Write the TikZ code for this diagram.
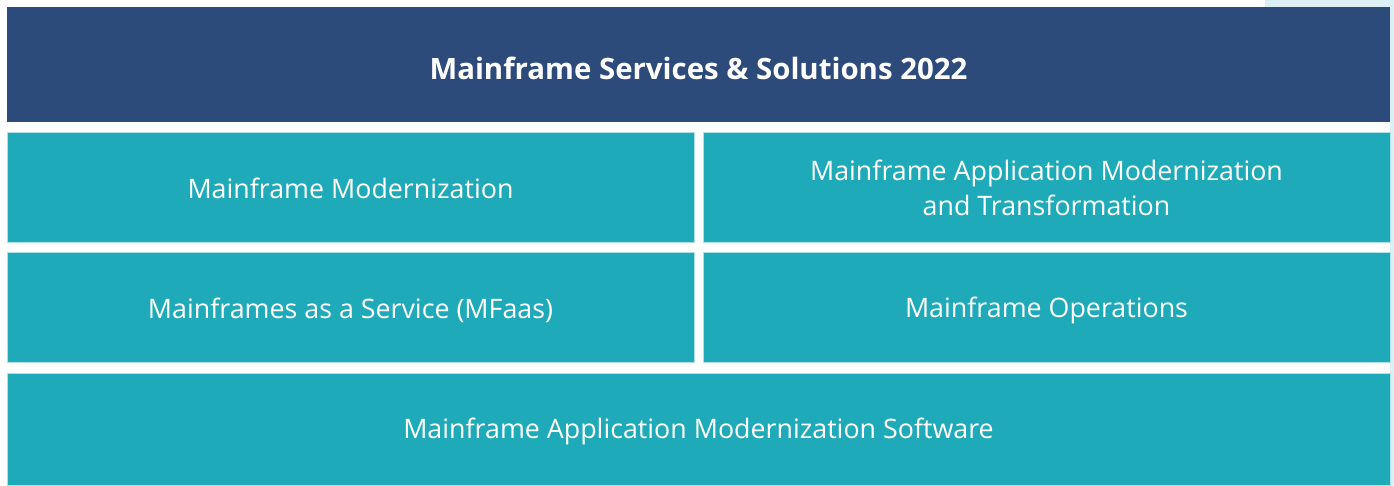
\documentclass[tikz,border=0pt]{standalone}
\usepackage{fontspec}
\setmainfont{Open Sans}
\usepackage{tikz}
\usetikzlibrary{positioning}
\definecolor{navy}{HTML}{2C4A7A}
\definecolor{teal}{HTML}{1FAABA}
\definecolor{pale}{HTML}{DCEFF5}
\tikzset{
  tile/.style={fill=teal, draw=teal!35, line width=0.6pt, anchor=north west,
    inner sep=0pt, outer sep=0pt},
  label/.style={text=white, align=center, font=\fontsize{26.8}{35}\selectfont},
}

\begin{document}
\begin{tikzpicture}[x=1pt, y=-1pt]
  % canvas
  \fill[white] (0,0) rectangle (1394,485);
  \fill[pale] (1390,0) rectangle (1394,485);
  \fill[pale] (1265,0) rectangle (1394,7);
  \useasboundingbox (0,0) rectangle (1394,485);

  % Header
  \node[fill=navy, anchor=north west, inner sep=0pt, outer sep=0pt,
    minimum width=1383pt, minimum height=115pt] (head) at (7,7) {};
  \node[text=white, font=\fontsize{29.4}{34}\selectfont\bfseries] (title) at ([yshift=-4pt]head.center) {Mainframe Services \& Solutions 2022};

  % Tiles
  \node[tile, minimum width=687pt, minimum height=110pt] (mod) at (7,132) {};
  \node[tile, minimum width=687pt, minimum height=110pt] (amt) at (703,132) {};
  \node[tile, minimum width=687pt, minimum height=110pt] (mfaas) at (7,252) {};
  \node[tile, minimum width=687pt, minimum height=110pt] (ops) at (703,252) {};
  \node[tile, minimum width=1383pt, minimum height=112pt] (soft) at (7,373) {};

  % Labels
  \node[label] (modtxt) at ([yshift=-1pt]mod.center) {Mainframe Modernization};
  \node[label] (amttxt) at ([yshift=-1pt]amt.center) {Mainframe Application Modernization\\and Transformation};
  \node[label] (mfaastxt) at ([yshift=-3pt]mfaas.center) {Mainframes as a Service (MFaas)};
  \node[label] (opstxt) at ([yshift=-3pt]ops.center) {Mainframe Operations};
  \node[label] (softtxt) at ([yshift=-2pt]soft.center) {Mainframe Application Modernization Software};
\end{tikzpicture}
\end{document}
